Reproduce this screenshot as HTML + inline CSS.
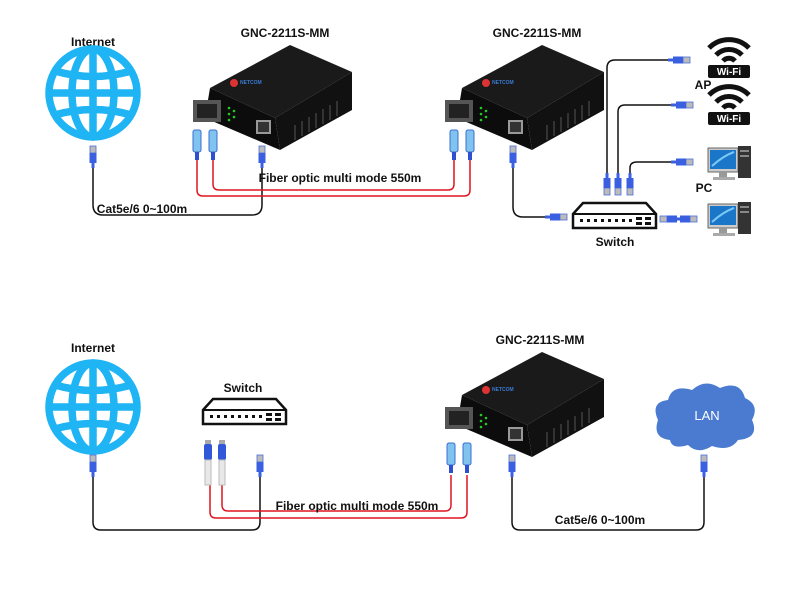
<!DOCTYPE html>
<html><head><meta charset="utf-8"><style>
html,body{margin:0;padding:0;background:#fff}
svg{display:block}
text{font-family:"Liberation Sans",Arial,sans-serif;font-weight:bold;font-size:12px;fill:#111}
</style></head><body>
<svg width="800" height="600" viewBox="0 0 800 600" xmlns="http://www.w3.org/2000/svg">
<defs>
<g id="globe" fill="none" stroke="#1fb4f4" stroke-width="7.5">
  <circle cx="0" cy="0" r="44"/>
  <ellipse cx="0" cy="0" rx="21" ry="44"/>
  <line x1="0" y1="-44" x2="0" y2="44"/>
  <line x1="-44" y1="0" x2="44" y2="0"/>
  <path d="M-38,-22 Q0,-11 38,-22"/>
  <path d="M-38,22 Q0,11 38,22"/>
</g>
<g id="plugv">
  <rect x="-3" y="0" width="6" height="7" fill="#bbb" stroke="#4a6fd8" stroke-width="0.8"/>
  <rect x="-3.5" y="7" width="7" height="10" fill="#3a5fe0"/>
  <rect x="-1.5" y="17" width="3" height="5" fill="#3a5fe0"/>
</g>
<g id="plugh">
  <rect x="0" y="-3" width="7" height="6" fill="#bbb" stroke="#4a6fd8" stroke-width="0.8"/>
  <rect x="-10" y="-3.5" width="10" height="7" fill="#3a5fe0"/>
  <rect x="-15" y="-1.5" width="5" height="3" fill="#3a5fe0"/>
</g>
<g id="sc">
  <rect x="-4" y="0" width="8" height="22" rx="2" fill="#7fc3ee" stroke="#3b6fd0" stroke-width="1"/>
  <rect x="-2" y="22" width="4" height="8" fill="#2d4fd0"/>
</g>
<g id="conv">
  <polygon points="210,88 290,45 352,72 275,118" fill="#1a1a1a"/>
  <polygon points="210,88 275,118 280,150 205,118" fill="#0c0c0c"/>
  <polygon points="275,118 352,72 352,110 280,150" fill="#111"/>
  <g stroke="#333" stroke-width="2">
    <line x1="295" y1="125" x2="295" y2="140"/><line x1="302" y1="121" x2="302" y2="136"/>
    <line x1="309" y1="117" x2="309" y2="132"/><line x1="316" y1="113" x2="316" y2="128"/>
    <line x1="323" y1="109" x2="323" y2="124"/><line x1="330" y1="105" x2="330" y2="120"/>
    <line x1="337" y1="101" x2="337" y2="116"/>
  </g>
  <circle cx="234" cy="83" r="4" fill="#d33"/>
  <text x="240" y="84" style="font-size:5px;fill:#3a7bd5">NETCOM</text>
  <rect x="193" y="100" width="28" height="22" fill="#555"/>
  <rect x="197" y="104" width="20" height="14" fill="#222"/>
  <g fill="#2c2"><circle cx="229" cy="108" r="1.3"/><circle cx="229" cy="114" r="1.3"/><circle cx="229" cy="120" r="1.3"/><circle cx="234" cy="111" r="1.3"/><circle cx="234" cy="117" r="1.3"/></g>
  <rect x="256" y="120" width="15" height="14" fill="#999"/>
  <rect x="258" y="122" width="11" height="10" fill="#333"/>
</g>
<g id="switch">
  <polygon points="0,11 10,0 73,0 83,11 83,25 0,25" fill="#fff" stroke="#111" stroke-width="2.5"/>
  <line x1="0" y1="11" x2="83" y2="11" stroke="#111" stroke-width="2"/>
  <g fill="#111"><rect x="7" y="16" width="3" height="3"/><rect x="14" y="16" width="3" height="3"/><rect x="21" y="16" width="3" height="3"/><rect x="28" y="16" width="3" height="3"/><rect x="35" y="16" width="3" height="3"/><rect x="42" y="16" width="3" height="3"/><rect x="49" y="16" width="3" height="3"/><rect x="56" y="16" width="3" height="3"/><rect x="63" y="14" width="6" height="3"/><rect x="63" y="19" width="6" height="3"/><rect x="72" y="14" width="6" height="3"/><rect x="72" y="19" width="6" height="3"/></g>
</g>
<g id="wifi">
  <path d="M-20,-2 A28,28 0 0 1 20,-2" fill="none" stroke="#111" stroke-width="5"/>
  <path d="M-13,5 A18,18 0 0 1 13,5" fill="none" stroke="#111" stroke-width="5"/>
  <path d="M-6,11 A8,8 0 0 1 6,11" fill="none" stroke="#111" stroke-width="5"/>
  <rect x="-21" y="15" width="42" height="13" rx="2" fill="#111"/>
  <text x="0" y="25" text-anchor="middle" style="fill:#fff;font-size:10px">Wi-Fi</text>
</g>
<g id="pc">
  <rect x="0" y="0" width="30" height="24" fill="#ccc" stroke="#666"/>
  <rect x="2" y="2" width="26" height="19" fill="#1a76c8"/>
  <path d="M4,18 Q15,8 26,4" stroke="#7cc8f5" stroke-width="2" fill="none"/>
  <rect x="11" y="24" width="8" height="5" fill="#999"/>
  <rect x="5" y="29" width="22" height="3" fill="#aaa"/>
  <rect x="30" y="-2" width="13" height="32" fill="#333"/>
  <rect x="32" y="2" width="9" height="2" fill="#888"/><rect x="32" y="7" width="9" height="2" fill="#888"/>
</g>
</defs>

<!-- TOP -->
<text x="93" y="46" text-anchor="middle">Internet</text>
<use href="#globe" x="93" y="93"/>
<text x="285" y="37" text-anchor="middle">GNC-2211S-MM</text>
<text x="537" y="37" text-anchor="middle">GNC-2211S-MM</text>
<use href="#conv"/>
<use href="#conv" x="252"/>
<g fill="none" stroke="#111" stroke-width="1.5">
  <path d="M93,168 V205 Q93,215 103,215 H252 Q262,215 262,205 V168"/>
  <path d="M513,168 V207 Q513,217 523,217 H560"/>
  <path d="M607,175 V68 Q607,60 615,60 H680"/>
  <path d="M618,175 V112 Q618,105 625,105 H683"/>
  <path d="M630,175 V168 Q630,162 637,162 H683"/>
  <path d="M660,219 H690"/>
</g>
<g fill="none" stroke="#e0141e" stroke-width="1.5">
  <path d="M197,160 V190 Q197,196 203,196 H464 Q470,196 470,190 V160"/>
  <path d="M213,160 V184 Q213,190 219,190 H448 Q454,190 454,184 V160"/>
</g>
<use href="#sc" x="197" y="130"/><use href="#sc" x="213" y="130"/>
<use href="#sc" x="454" y="130"/><use href="#sc" x="470" y="130"/>
<use href="#plugv" x="93" y="146"/><use href="#plugv" x="262" y="146"/>
<use href="#plugv" x="513" y="146"/>
<text x="340" y="182" text-anchor="middle">Fiber optic multi mode 550m</text>
<text x="142" y="213" text-anchor="middle">Cat5e/6 0~100m</text>
<use href="#switch" x="573" y="203"/>
<use href="#plugh" x="560" y="217"/>
<g transform="rotate(180 607 185)"><use href="#plugv" x="607" y="175"/></g>
<g transform="rotate(180 618 185)"><use href="#plugv" x="618" y="175"/></g>
<g transform="rotate(180 630 185)"><use href="#plugv" x="630" y="175"/></g>
<use href="#plugh" x="683" y="60"/><use href="#plugh" x="686" y="105"/><use href="#plugh" x="686" y="162"/>
<use href="#plugh" x="690" y="219"/>
<g transform="rotate(180 667 219)"><use href="#plugh" x="667" y="219"/></g>
<text x="615" y="246" text-anchor="middle">Switch</text>
<use href="#wifi" x="729" y="50"/>
<use href="#wifi" x="729" y="97"/>
<text x="703" y="89" text-anchor="middle">AP</text>
<use href="#pc" x="708" y="148"/>
<use href="#pc" x="708" y="204"/>
<text x="704" y="192" text-anchor="middle">PC</text>

<!-- BOTTOM -->
<text x="93" y="352" text-anchor="middle">Internet</text>
<use href="#globe" x="93" y="407"/>
<text x="243" y="392" text-anchor="middle">Switch</text>
<use href="#switch" x="203" y="399"/>
<text x="540" y="344" text-anchor="middle">GNC-2211S-MM</text>
<use href="#conv" x="252" y="307"/>
<g fill="none" stroke="#111" stroke-width="1.5">
  <path d="M93,472 V522 Q93,530 101,530 H252 Q260,530 260,522 V472"/>
  <path d="M512,472 V522 Q512,530 520,530 H696 Q704,530 704,522 V472"/>
</g>
<g fill="none" stroke="#e0141e" stroke-width="1.5">
  <path d="M210,485 V512 Q210,518 216,518 H461 Q467,518 467,512 V475"/>
  <path d="M222,485 V505 Q222,511 228,511 H445 Q451,511 451,505 V475"/>
</g>
<g>
  <rect x="205" y="440" width="6" height="4" fill="#aaa"/><rect x="204" y="444" width="8" height="16" rx="2" fill="#3058d8"/><rect x="205" y="460" width="6" height="25" fill="#e8e8e8" stroke="#bbb"/>
  <rect x="219" y="440" width="6" height="4" fill="#aaa"/><rect x="218" y="444" width="8" height="16" rx="2" fill="#3058d8"/><rect x="219" y="460" width="6" height="25" fill="#e8e8e8" stroke="#bbb"/>
</g>
<use href="#sc" x="451" y="443"/><use href="#sc" x="467" y="443"/>
<use href="#plugv" x="93" y="455"/><use href="#plugv" x="260" y="455"/>
<use href="#plugv" x="512" y="455"/><use href="#plugv" x="704" y="455"/>
<text x="357" y="510" text-anchor="middle">Fiber optic multi mode 550m</text>
<text x="600" y="524" text-anchor="middle">Cat5e/6 0~100m</text>
<path d="M670,440 Q652,438 658,420 Q650,402 668,400 Q672,384 692,390 Q705,378 720,388 Q740,380 745,398 Q760,405 752,420 Q760,438 738,440 Q730,452 712,446 Q698,455 688,445 Q672,450 670,440 Z" fill="#4a7bd0"/>
<text x="707" y="420" text-anchor="middle" style="fill:#fff;font-weight:normal;font-size:13px">LAN</text>
</svg>
</body></html>
